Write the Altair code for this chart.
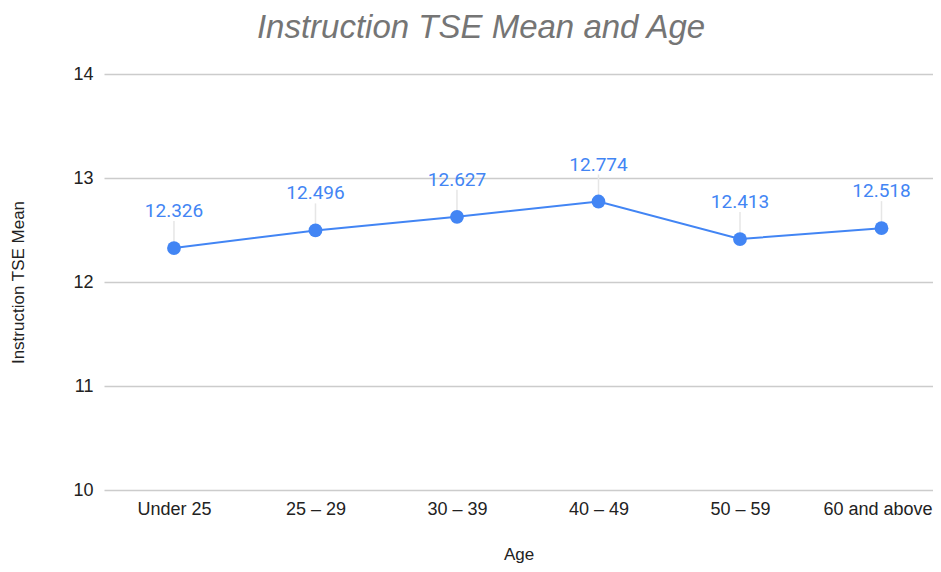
import altair as alt
import pandas as pd

ages = ["Under 25", "25 – 29", "30 – 39", "40 – 49", "50 – 59", "60 and above"]
means = [12.326, 12.496, 12.627, 12.774, 12.413, 12.518]
labels = ["12.326", "12.496", "12.627", "12.774", "12.413", "12.518"]

df = pd.DataFrame({"Age": ages, "Mean": means, "Label": labels})

BLUE = "#4285F4"
AX_FONT = "Liberation Sans"
LBL_FONT = "Roboto"

x = alt.X("Age:O", sort=ages, title="Age",
          scale=alt.Scale(type="point", padding=0.4293, align=0.576),
          axis=alt.Axis(labelAngle=0, labelFontSize=18, labelColor="#222222",
                        labelOffset=alt.expr("datum.value == '60 and above' ? -4 : 0"),
                        titleFontSize=17, titleFontWeight="normal", titleColor="#222222",
                        labelPadding=10, titlePadding=28, ticks=False, domain=False,
                        labelFont=AX_FONT, titleFont=AX_FONT, grid=False))
y = alt.Y("Mean:Q", title="Instruction TSE Mean",
          scale=alt.Scale(domain=[10, 14], nice=False, zero=False),
          axis=alt.Axis(values=[10, 11, 12, 13, 14], labelFontSize=18, labelColor="#222222",
                        titleFontSize=17, titleFontWeight="normal", titleColor="#222222",
                        labelPadding=11, titlePadding=45, ticks=False, domain=False,
                        gridColor="#cccccc", gridWidth=1.3, labelFont=AX_FONT, titleFont=AX_FONT))

base = alt.Chart(df)

leader = base.mark_rule(color="#e6e6e6", strokeWidth=1.5, y2Offset=-27).encode(
    x=x, y=y, y2=alt.Y2("Mean:Q"))
line = base.mark_line(color=BLUE, strokeWidth=2).encode(x=x, y=y)
pts = base.mark_point(filled=True, color=BLUE, size=190, opacity=1).encode(x=x, y=y)
txt = base.mark_text(color=BLUE, fontSize=19, font=LBL_FONT, dy=-37, baseline="middle").encode(
    x=x, y=y, text="Label:N")

chart = alt.layer(leader, line, pts, txt).properties(
    width=829, height=416,
    title=alt.TitleParams("Instruction TSE Mean and Age", fontSize=33, font=AX_FONT,
                          fontStyle="italic", fontWeight="normal", color="#757575",
                          anchor="middle", dx=-37.5, offset=20),
    autosize=alt.AutoSizeParams(type="none"),
    padding={"left": 96, "top": 66, "right": 0, "bottom": 74},
).configure_view(stroke=None)

chart.save("out.html", embed_options={"renderer": "svg", "actions": False})
